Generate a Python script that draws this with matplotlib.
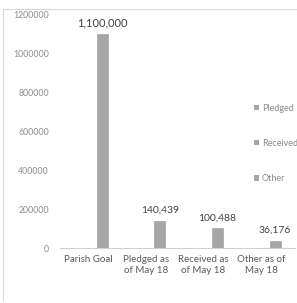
import matplotlib.pyplot as plt
from matplotlib.patches import Patch
from matplotlib.lines import Line2D

categories = ["Parish Goal", "Pledged as\nof May 18", "Received as\nof May 18", "Other as of\nMay 18"]
values = [1100000, 140439, 100488, 36176]
value_labels = ["1,100,000", "140,439", "100,488", "36,176"]
legend_labels = ["Pledged", "Received", "Other"]
yticks = [0, 200000, 400000, 600000, 800000, 1000000, 1200000]

plt.rcParams['font.family'] = ['Lato', 'DejaVu Sans']

W, H = 297, 303
fig = plt.figure(figsize=(W / 100, H / 100), dpi=100)

# plot area in pixels
x0, x1 = 60, 295
y_top, y_zero = 15, 248
ax = fig.add_axes([x0 / W, (H - y_zero) / H, (x1 - x0) / W, (y_zero - y_top) / H])

bar_col = "#a6a6a6"
xs = list(range(len(categories)))
offset = 0.245  # bars sit right of the category centre (series slot)
bx = [x + offset for x in xs]
ax.bar(bx, values, width=0.19, color=bar_col, edgecolor="#9a9a9a", linewidth=0.4)

for x, v, lab in zip(bx, values, value_labels):
    fs = 8 if v > 1000000 else 7.5
    ax.text(x, v + 30000, lab, ha="center", va="bottom", fontsize=fs, color="#404040")

ax.set_xlim(-0.487, 3.59)
ax.set_ylim(0, 1200000)
ax.set_yticks(yticks)
ax.set_yticklabels([str(t) for t in yticks], fontsize=6.3, color="#8c8c8c")
ax.set_xticks(xs)
ax.set_xticklabels(categories, fontsize=7, color="#595959", linespacing=1.25)
ax.tick_params(axis="both", length=0, pad=8)
ax.tick_params(axis="x", pad=5)

for s in ["top", "right", "left"]:
    ax.spines[s].set_visible(False)
ax.spines["bottom"].set_color("#d0d0d0")
ax.spines["bottom"].set_linewidth(0.8)

handles = [Patch(facecolor=bar_col, edgecolor="none") for _ in legend_labels]
fig.legend(handles, legend_labels, loc="upper left", bbox_to_anchor=(250 / W, 1 - 100 / H),
           frameon=False, fontsize=6.5, labelcolor="#8c8c8c", handlelength=0.6,
           handleheight=0.6, handletextpad=0.3, labelspacing=2.9, borderaxespad=0)

# chart border (partly cut off)
fig.add_artist(Line2D([3 / W, 3 / W], [1 - 9 / H, 1 - 300 / H], color="#d9d9d9", lw=0.8))
fig.add_artist(Line2D([3 / W, 296 / W], [1 - 9 / H, 1 - 9 / H], color="#d9d9d9", lw=0.8))

fig.savefig("out.png", dpi=100)
